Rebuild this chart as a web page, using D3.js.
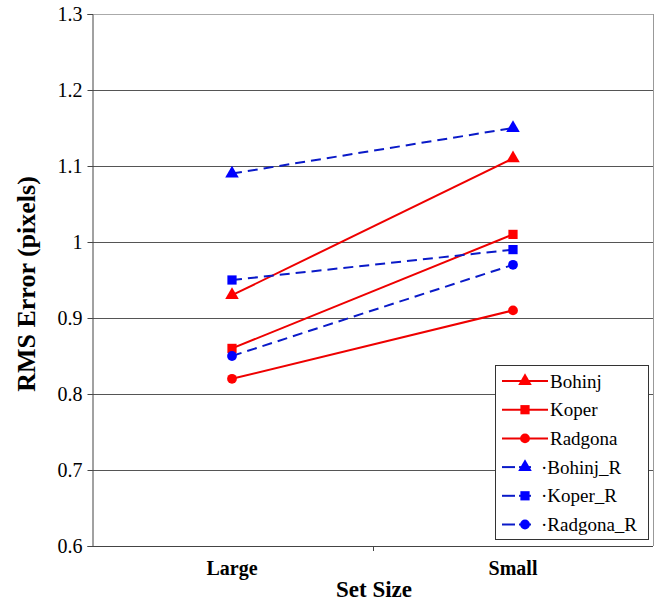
<!DOCTYPE html>
<html><head><meta charset="utf-8">
<script src="https://cdn.jsdelivr.net/npm/d3@7"></script>
<style>body{margin:0;background:#fff}svg{display:block}</style>
</head><body><svg id="c" width="662" height="602"></svg>
<script>
const categories = ["Large", "Small"];
const seriesNames = ["Bohinj", "Koper", "Radgona", "Bohinj_R", "Koper_R", "Radgona_R"];
const bohinj = [0.93, 1.11];
const koper = [0.86, 1.01];
const radgona = [0.82, 0.91];
const bohinjR = [1.09, 1.15];
const koperR = [0.95, 0.99];
const radgonaR = [0.85, 0.97];
const yTicks = [0.6, 0.7, 0.8, 0.9, 1.0, 1.1, 1.2, 1.3];

const FONT = "'Liberation Serif', 'Times New Roman', serif";
const series = [
  {name: seriesNames[0], values: bohinj, color: "#f00", sym: d3.symbolTriangle, dash: null},
  {name: seriesNames[1], values: koper, color: "#f00", sym: d3.symbolSquare, dash: null},
  {name: seriesNames[2], values: radgona, color: "#f00", sym: d3.symbolCircle, dash: null},
  {name: seriesNames[3], values: bohinjR, color: "#00f", sym: d3.symbolTriangle, dash: "10,6"},
  {name: seriesNames[4], values: koperR, color: "#00f", sym: d3.symbolSquare, dash: "10,6"},
  {name: seriesNames[5], values: radgonaR, color: "#00f", sym: d3.symbolCircle, dash: "10,6"}
];

const svg = d3.select("#c");
const L = 92, R = 653, T = 14, B = 546;
const x2 = d3.scalePoint().domain(categories).range([232, 513]);
const y = d3.scaleLinear().domain([0.6, 1.3]).range([B, T]);

// gridlines
svg.append("g").selectAll("line").data(yTicks.filter(v => v > 0.6 && v < 1.3)).join("line")
  .attr("x1", L).attr("x2", R).attr("y1", d => Math.round(y(d)) + 0.5).attr("y2", d => Math.round(y(d)) + 0.5)
  .attr("stroke", "#555").attr("stroke-width", 1.2);
svg.append("line").attr("x1", L).attr("x2", R).attr("y1", T + 0.5).attr("y2", T + 0.5).attr("stroke", "#aaa");
svg.append("line").attr("x1", R + 0.5).attr("x2", R + 0.5).attr("y1", T).attr("y2", B).attr("stroke", "#999");

// y axis
const yAxis = d3.axisLeft(y).tickValues(yTicks).tickSize(5).tickFormat(d => d === 1 ? "1" : d3.format(".1f")(d));
const ya = svg.append("g").attr("transform", `translate(${L + 0.5},0)`).call(yAxis);
ya.attr("font-family", null).attr("font-size", null);
ya.select(".domain").attr("stroke", "#444");
ya.selectAll(".tick line").attr("stroke", "#444");
ya.selectAll("text").style("font-family", FONT).style("font-size", "20px").attr("fill", "#000").attr("x", -10).attr("dy", "0.34em");

// x axis
svg.append("line").attr("x1", L).attr("x2", R).attr("y1", B + 0.5).attr("y2", B + 0.5).attr("stroke", "#444").attr("stroke-width", 1.2);
svg.append("line").attr("x1", 373.5).attr("x2", 373.5).attr("y1", B).attr("y2", B + 5).attr("stroke", "#444");
svg.append("g").selectAll("text").data(categories).join("text")
  .attr("x", d => x2(d)).attr("y", 575).attr("text-anchor", "middle")
  .style("font-family", FONT).style("font-size", "20px").style("font-weight", "bold").text(d => d);

svg.append("text").attr("x", 374).attr("y", 597).attr("text-anchor", "middle")
  .style("font-family", FONT).style("font-size", "23px").style("font-weight", "bold").text("Set Size");
svg.append("text").attr("transform", "translate(35,284) rotate(-90)").attr("text-anchor", "middle")
  .style("font-family", FONT).style("font-size", "26px").style("font-weight", "bold").text("RMS Error (pixels)");

// series
const line = d3.line().x((d, i) => x2(categories[i])).y(d => y(d));
const sizeOf = s => s === d3.symbolTriangle ? 80 : s === d3.symbolSquare ? 85 : 75;
series.forEach(s => {
  svg.append("path").datum(s.values).attr("d", line).attr("fill", "none")
    .attr("stroke", s.color === "#f00" ? "#e00" : "#0a1ac8").attr("stroke-width", 2)
    .attr("stroke-dasharray", s.dash);
  svg.append("g").selectAll("path").data(s.values).join("path")
    .attr("transform", (d, i) => `translate(${x2(categories[i])},${y(d)})`)
    .attr("d", d3.symbol(s.sym, sizeOf(s.sym))).attr("fill", s.color);
});

// legend
const lg = svg.append("g");
lg.append("rect").attr("x", 495.5).attr("y", 365.5).attr("width", 153).attr("height", 174)
  .attr("fill", "#fff").attr("stroke", "#333");
series.forEach((s, i) => {
  const yy = 381 + i * 28.7;
  const g = lg.append("g");
  if (s.dash) {
    g.append("line").attr("x1", 502).attr("x2", 515).attr("y1", yy).attr("y2", yy).attr("stroke", "#0a1ac8").attr("stroke-width", 2);
    g.append("line").attr("x1", 519).attr("x2", 531).attr("y1", yy).attr("y2", yy).attr("stroke", "#0a1ac8").attr("stroke-width", 2);
  } else {
    g.append("line").attr("x1", 502).attr("x2", 548).attr("y1", yy).attr("y2", yy).attr("stroke", "#e00").attr("stroke-width", 2);
  }
  g.append("path").attr("transform", `translate(525,${yy})`).attr("d", d3.symbol(s.sym, sizeOf(s.sym))).attr("fill", s.color);
  g.append("text").attr("x", s.dash ? 541 : 550).attr("y", yy + 6.5)
    .style("font-family", FONT).style("font-size", "19px").text(s.dash ? "\u00b7" + s.name : s.name);
});
</script></body></html>
